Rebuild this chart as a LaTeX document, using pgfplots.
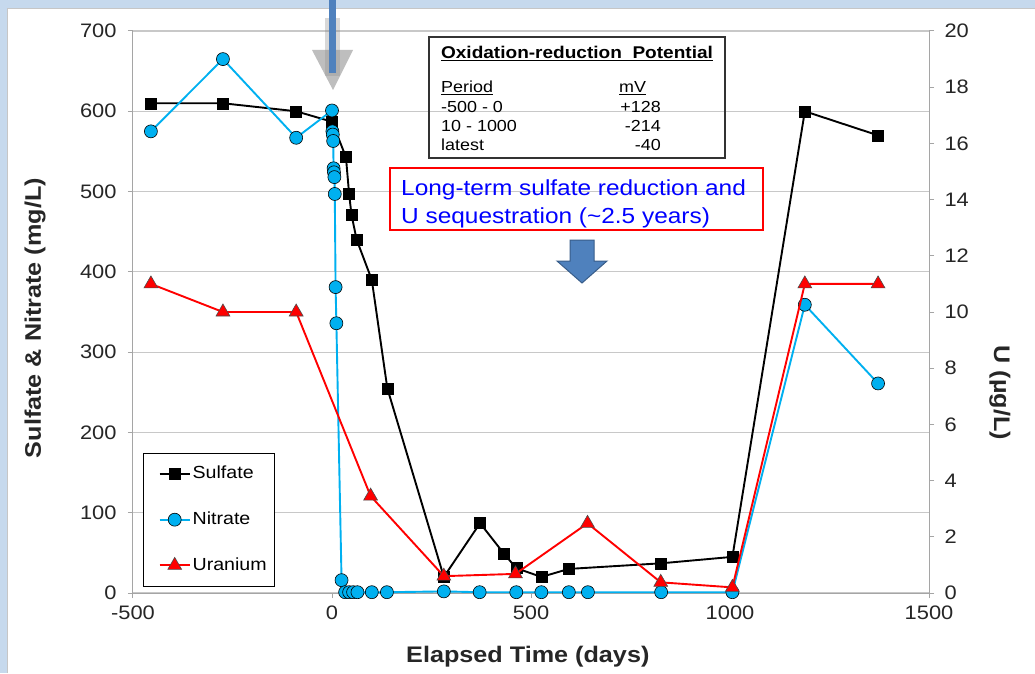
\documentclass[border=0pt]{standalone}
\usepackage{fontspec}
\setmainfont{Liberation Sans}[FakeStretch=1.12]
\usepackage{pgfplots}
\pgfplotsset{compat=1.18}
\definecolor{nitblue}{RGB}{0,176,240}
\definecolor{gridgray}{RGB}{200,200,200}
\definecolor{axgray}{RGB}{165,165,165}
\definecolor{framebl}{RGB}{198,217,237}
\definecolor{arrowbl}{RGB}{79,129,189}
\definecolor{arrowdk}{RGB}{56,93,138}
\definecolor{ticktxt}{RGB}{38,38,38}

% pixel coords of the reference: axis origin at (133,593)
\tikzset{px/.style={x=1pt,y=-1pt,shift={(-133pt,593pt)}}}
\pgfplotsset{
  base/.style={scale only axis, width=796pt, height=562pt, xmin=-500, xmax=1500,
    tick align=outside, major tick length=5pt,
    tick style={line width=1pt, axgray},
    axis line style={line width=1pt, axgray},
    /pgf/number format/assume math mode=true,
    /pgf/number format/1000 sep={},
    ticklabel style={font=\fontsize{19.5}{20}\selectfont, text=ticktxt}},
  sulf/.style={black, line width=1.9pt, mark=square*, mark size=5.5pt,
    mark options={fill=black, draw=black, line width=0.5pt}},
  nit/.style={nitblue, line width=1.9pt, mark=*, mark size=6.5pt,
    mark options={fill=nitblue, draw=black, line width=0.6pt}},
  ura/.style={red, line width=1.9pt, mark=triangle*, mark size=8pt,
    mark options={fill=red, draw=black!70, line width=0.6pt}},
}

\begin{document}
\begin{tikzpicture}
\begin{scope}[px]
  \path[use as bounding box] (0,0) rectangle (1035,673);
  \fill[framebl] (0,0) rectangle (1035,673);
  \fill[white] (7,8) rectangle (1035,673);
  \draw[gray!45, line width=0.8pt] (7,673) -- (7,8) -- (1035,8);
\end{scope}

\begin{axis}[base, ymin=0, ymax=700, ytick={0,100,...,700}, xtick={-500,0,...,1500},
  axis x line*=bottom, axis y line*=left,
  ymajorgrids, grid style={line width=1.2pt, gridgray},
  yticklabel style={xshift=-8pt},
  xticklabel style={yshift=-4pt},
  xlabel={Elapsed Time (days)}, ylabel={Sulfate \& Nitrate (mg/L)},
  label style={font=\bfseries\fontsize{22.5}{24}\selectfont, text=ticktxt},
  xlabel style={at={(axis description cs:0.496,-0.114)}, anchor=center},
  ylabel style={at={(axis description cs:-0.123,0.489)}, anchor=center},
]
\addplot[sulf] coordinates {
  (-455,610) (-274,610) (-90,600) (0,587) (35,543) (43,497) (49,471) (62,440)
  (100,390) (139,255) (281,20) (372,87) (432,49) (463,31) (526,20) (595,30)
  (827,37) (1006,45) (1188,600) (1372,570)};
\addplot[nit] coordinates {
  (-455,575) (-274,665) (-90,567) (0,601) (1,575) (2,571) (3,563) (4,529)
  (5,524) (6,518) (7,497) (9,381) (11,336) (24,16) (33,1) (43,1) (53,1) (64,1)
  (100,1) (138,1) (281,2) (371,1) (463,1) (526,1) (595,1) (643,1) (827,1)
  (1006,1) (1188,359) (1372,261)};
\end{axis}

\begin{axis}[base, ymin=0, ymax=20, ytick={0,2,...,20},
  axis x line=none, axis y line*=right,
  yticklabel style={xshift=7pt},
  ylabel={U (µg/L)},
  ylabel style={at={(axis description cs:1.089,0.356)}, anchor=center, rotate=180,
    font=\bfseries\fontsize{22.5}{24}\selectfont, text=ticktxt},
  legend style={at={(axis description cs:0.0129,0.0112)}, anchor=south west,
    draw=black, line width=1pt, fill=white,
    font=\fontsize{17.5}{18}\selectfont, row sep=26pt,
    inner xsep=6pt, inner ysep=11pt,
    nodes={inner sep=2pt, text depth=3pt}},
  legend cell align=left,
  legend image code/.code={\path (0pt,0pt);
    \draw[mark repeat=2,mark phase=2]
    plot coordinates {(9pt,0pt)(24pt,0pt)(39pt,0pt)};},
]
\addlegendimage{sulf}\addlegendentry{Sulfate}
\addlegendimage{nit}\addlegendentry{Nitrate}
\addplot[ura] coordinates {
  (-455,11) (-274,10) (-90,10) (97,3.45) (281,0.6) (461,0.68) (642,2.48)
  (826,0.38) (1006,0.2) (1188,11) (1372,11)};
\addlegendentry{Uranium}
\end{axis}

\begin{scope}[px]
  % arrow at day 0
  \fill[gray, opacity=0.3] (325,18) rectangle (340,76);
  \fill[gray!85, opacity=0.6] (312,50) -- (353,50) -- (333,90) -- cycle;
  \fill[arrowbl] (329,0) rectangle (336,73);
  % ORP box
  \draw[line width=1.5pt, black!80] (429,37) rectangle (725,158);
  \node[anchor=base, inner sep=0, font=\bfseries\fontsize{17}{18}\selectfont]
    at (577,58.5) {\underline{Oxidation-reduction\ \ Potential}};
  \begin{scope}[every node/.style={inner sep=0, font=\fontsize{16}{17}\selectfont}]
    \node[anchor=base west] at (441,93) {\underline{Period}};
    \node[anchor=base west] at (619,93) {\underline{mV}};
    \node[anchor=base west] at (441,113) {-500 - 0};
    \node[anchor=base west] at (441,132) {10 - 1000};
    \node[anchor=base west] at (441,151) {latest};
    \node[anchor=base east] at (661,113) {+128};
    \node[anchor=base east] at (661,132) {-214};
    \node[anchor=base east] at (661,151) {-40};
  \end{scope}
  % red note box
  \draw[red, line width=1.5pt] (390,168) rectangle (763,230);
  \node[anchor=base west, inner sep=0, text=blue, font=\fontsize{21.8}{24}\selectfont]
    at (401,195) {Long-term sulfate reduction and};
  \node[anchor=base west, inner sep=0, text=blue, font=\fontsize{21.8}{24}\selectfont]
    at (401,223) {U sequestration (\textasciitilde2.5 years)};
  % block arrow
  \filldraw[fill=arrowbl, draw=arrowdk, line width=1pt]
    (570,240) -- (594,240) -- (594,261) -- (607,261) -- (582,283)
    -- (557,261) -- (570,261) -- cycle;
\end{scope}
\end{tikzpicture}
\end{document}
